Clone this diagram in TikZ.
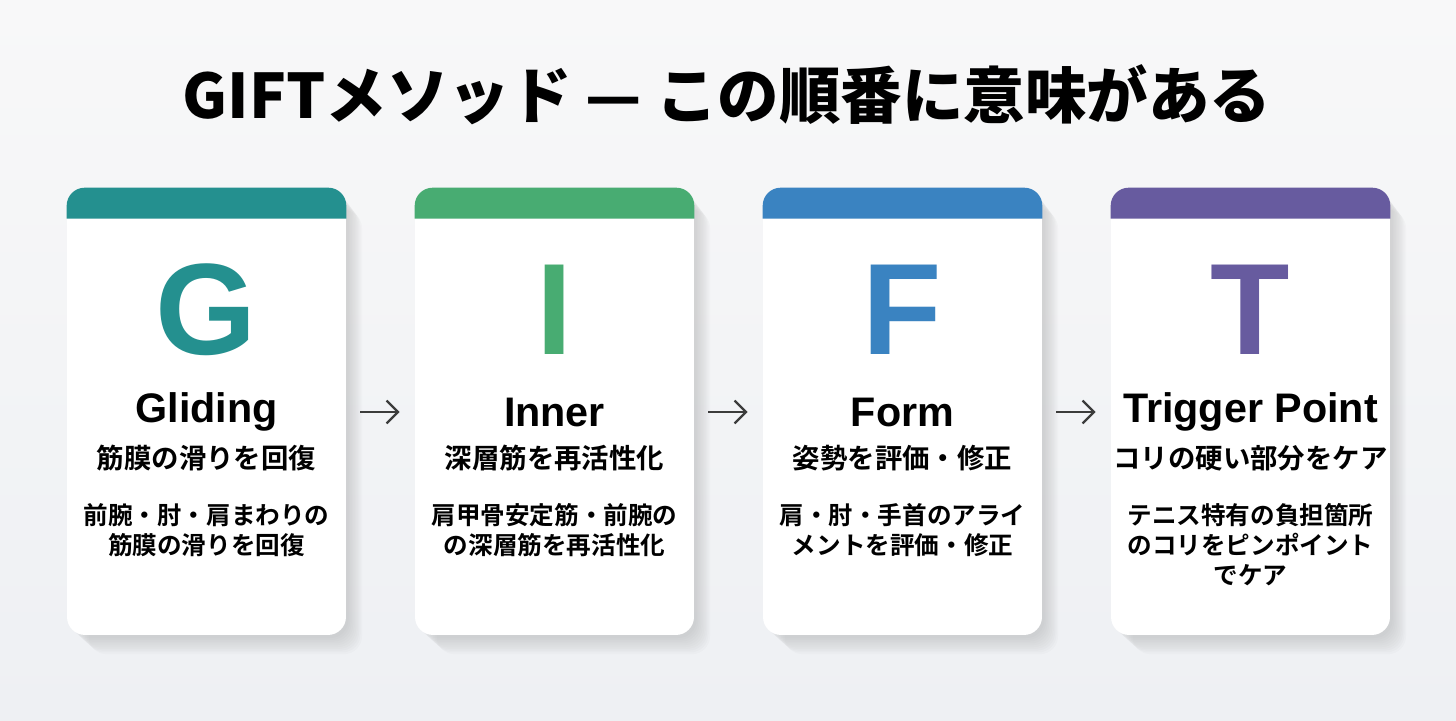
\documentclass[tikz,border=0pt]{standalone}
\usepackage{fontspec}
\usepackage{tikz}
\usetikzlibrary{arrows.meta}
\setmainfont{Noto Sans CJK JP}
\newfontfamily\jpbold{Noto Sans CJK JP Bold}
\newfontfamily\jpblack{Noto Sans CJK JP Black}
\newfontfamily\latin{Liberation Sans}
\definecolor{gteal}{HTML}{24908F}
\definecolor{igreen}{HTML}{48AC72}
\definecolor{fblue}{HTML}{3A83C1}
\definecolor{tpurple}{HTML}{675B9F}
\definecolor{arrowgray}{HTML}{3C3C3C}
\definecolor{bgtop}{HTML}{F8F8F9}
\definecolor{bgbottom}{HTML}{EEF0F3}

\begin{document}
\begin{tikzpicture}[x=0.02cm,y=-0.02cm]
	\tikzstyle{every node}+=[inner sep=0pt]
	\tikzstyle{card}=[fill=white, rounded corners=0.36cm, minimum width=5.58cm, minimum height=8.94cm]
	\tikzstyle{softshadow}=[fill=black!85, opacity=0.017, rounded corners=0.36cm]
	\tikzstyle{bigletter}=[font=\latin\bfseries\fontsize{74pt}{74pt}\selectfont]
	\tikzstyle{cardname}=[font=\latin\bfseries\fontsize{23.5pt}{23.5pt}\selectfont]
	\tikzstyle{cardsub}=[font=\jpbold\fontsize{15.6pt}{18pt}\selectfont]
	\tikzstyle{carddesc}=[font=\jpbold\fontsize{14pt}{17pt}\selectfont, align=center, anchor=north]
	\tikzstyle{arr}=[draw=arrowgray, line width=1.3pt, -{Straight Barb[length=6.5pt,width=13pt]}, shorten <=0.28cm, shorten >=0.3cm]

	\useasboundingbox (0,0) rectangle (1456,720);
	\shade[top color=bgtop, bottom color=bgbottom] (0,0) rectangle (1456,720);

	\node[font=\jpblack\fontsize{35pt}{35pt}\selectfont] (title) at (727,95) {GIFTメソッド — この順番に意味がある};

	% shadows under the cards
	\foreach \cx in {206.5,554.5,902.5,1250.5}
		\foreach \s in {0,...,9}
			\fill[softshadow] (\cx-136+2*\s,192+2*\s) rectangle (\cx+142+1.5*\s,638+1.8*\s);

	% cards
	\node[card] (gcard) at (206.5,411.5) {};
	\node[card] (icard) at (554.5,411.5) {};
	\node[card] (fcard) at (902.5,411.5) {};
	\node[card] (tcard) at (1250.5,411.5) {};

	\fill[gteal] ([yshift=-0.62cm]gcard.north west) [rounded corners=0.36cm] -- (gcard.north west) -- (gcard.north east) [sharp corners] -- ([yshift=-0.62cm]gcard.north east) -- cycle;
	\fill[igreen] ([yshift=-0.62cm]icard.north west) [rounded corners=0.36cm] -- (icard.north west) -- (icard.north east) [sharp corners] -- ([yshift=-0.62cm]icard.north east) -- cycle;
	\fill[fblue] ([yshift=-0.62cm]fcard.north west) [rounded corners=0.36cm] -- (fcard.north west) -- (fcard.north east) [sharp corners] -- ([yshift=-0.62cm]fcard.north east) -- cycle;
	\fill[tpurple] ([yshift=-0.62cm]tcard.north west) [rounded corners=0.36cm] -- (tcard.north west) -- (tcard.north east) [sharp corners] -- ([yshift=-0.62cm]tcard.north east) -- cycle;

	% G
	\node[bigletter, text=gteal] (gletter) at (206.5,310) {G};
	\node[cardname] (gname) at (206.5,412) {Gliding};
	\node[cardsub] (gsub) at (206.5,458) {筋膜の滑りを回復};
	\node[carddesc] (gdesc) at (206.5,503) {前腕・肘・肩まわりの\\筋膜の滑りを回復};

	% I
	\node[bigletter, text=igreen] (iletter) at (554.5,310) {I};
	\node[cardname] (iname) at (554.5,412) {Inner};
	\node[cardsub] (isub) at (554.5,458) {深層筋を再活性化};
	\node[carddesc] (idesc) at (554.5,503) {肩甲骨安定筋・前腕の\\の深層筋を再活性化};

	% F
	\node[bigletter, text=fblue] (fletter) at (902.5,310) {F};
	\node[cardname] (fname) at (902.5,412) {Form};
	\node[cardsub] (fsub) at (902.5,458) {姿勢を評価・修正};
	\node[carddesc] (fdesc) at (902.5,503) {肩・肘・手首のアライ\\メントを評価・修正};

	% T
	\node[bigletter, text=tpurple] (tletter) at (1250.5,310) {T};
	\node[cardname] (tname) at (1250.5,412) {Trigger Point};
	\node[cardsub] (tsub) at (1250.5,458) {コリの硬い部分をケア};
	\node[carddesc] (tdesc) at (1250.5,503) {テニス特有の負担箇所\\のコリをピンポイント\\でケア};

	\draw[arr] (gcard.east |- gname) -- (icard.west |- iname);
	\draw[arr] (icard.east |- iname) -- (fcard.west |- fname);
	\draw[arr] (fcard.east |- fname) -- (tcard.west |- tname);
\end{tikzpicture}
\end{document}
